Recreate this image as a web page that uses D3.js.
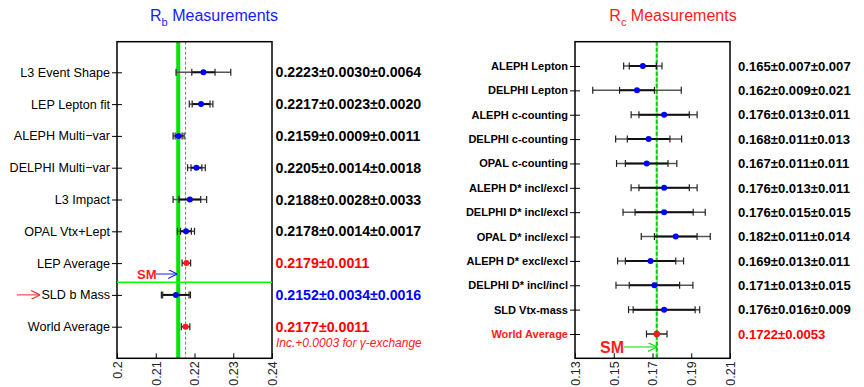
<!DOCTYPE html>
<html><head><meta charset="utf-8">
<script src="https://cdn.jsdelivr.net/npm/d3@7/dist/d3.min.js"></script>
<style>body{margin:0;background:#fff}svg{display:block;font-family:"Liberation Sans",Arial,sans-serif}</style>
</head><body>
<svg id="c" width="864" height="387"></svg>
<script>
// ---- R_b data ----
const rbLabels = ["L3 Event Shape","LEP Lepton fit","ALEPH Multi\u2212var","DELPHI Multi\u2212var","L3 Impact","OPAL Vtx+Lept","LEP Average","SLD b Mass","World Average"];
const rbValues = [0.2223,0.2217,0.2159,0.2205,0.2188,0.2178,0.2179,0.2152,0.2177];
const rbStat   = [0.0030,0.0023,0.0009,0.0014,0.0028,0.0014,0.0011,0.0034,0.0011];
const rbSyst   = [0.0064,0.0020,0.0011,0.0018,0.0033,0.0017,0,0.0016,0];
const rbKind   = ["m","m","m","m","m","m","avg","sld","avg"];
const rbTicks  = [0.2,0.21,0.22,0.23,0.24];
const rbSM = 0.2158;
const rbWorld = 0.2177;

// ---- R_c data ----
const rcLabels = ["ALEPH Lepton","DELPHI Lepton","ALEPH c-counting","DELPHI c-counting","OPAL c-counting","ALEPH D* incl/excl","DELPHI D* incl/excl","OPAL D* incl/excl","ALEPH D* excl/excl","DELPHI D* incl/incl","SLD Vtx-mass","World Average"];
const rcValues = [0.165,0.162,0.176,0.168,0.167,0.176,0.176,0.182,0.169,0.171,0.176,0.1722];
const rcStat   = [0.007,0.009,0.013,0.011,0.011,0.013,0.015,0.011,0.013,0.013,0.016,0.0053];
const rcSyst   = [0.007,0.021,0.011,0.013,0.011,0.011,0.015,0.014,0.011,0.015,0.009,0];
const rcKind   = ["m","m","m","m","m","m","m","m","m","m","m","avg"];
const rcTicks  = [0.13,0.15,0.17,0.19,0.21];
const rcSM = 0.1723;
const rcWorld = 0.1722;

const svg = d3.select("#c");
const defs = svg.append("defs");
function marker(id,color){
  defs.append("marker").attr("id",id).attr("viewBox","0 0 10 10").attr("refX",10).attr("refY",5)
    .attr("markerWidth",9).attr("markerHeight",9).attr("markerUnits","userSpaceOnUse").attr("orient","auto")
    .append("path").attr("d","M0,0 L10,5 L0,10").attr("fill","none").attr("stroke",color).attr("stroke-width",1.2);
}
marker("ab","#1a1aff"); marker("ag","#00dd00"); marker("ar","#ff2020");

function fmt(v,s,sy,digits){
  const f = d3.format("."+digits+"f");
  return sy>0 ? f(v)+"\u00b1"+f(s)+"\u00b1"+f(sy) : f(v)+"\u00b1"+f(s);
}

function panel(o){
  const x = d3.scaleLinear().domain(o.domain).range([o.x0,o.x1]);
  const y = d3.scalePoint().domain(o.labels).range([o.y0,o.y1]);
  const g = svg.append("g");
  const top=41.7, bot=358.3;
  // title
  const t = g.append("text").attr("x",o.titleX).attr("y",21).attr("fill",o.titleColor)
    .attr("font-size",16).attr("text-anchor","middle");
  t.append("tspan").text("R");
  t.append("tspan").attr("font-size",11).attr("dy",5).text(o.sub);
  t.append("tspan").attr("dy",-5).text(" Measurements");

  // SM line & world average line
  if(o.thickSM){
    g.append("line").attr("x1",x(o.sm)).attr("x2",x(o.sm)).attr("y1",top).attr("y2",bot)
      .attr("stroke","#00e600").attr("stroke-width",4);
    g.append("line").attr("x1",x(o.world)).attr("x2",x(o.world)).attr("y1",top).attr("y2",bot)
      .attr("stroke","#00cc00").attr("stroke-width",1).attr("stroke-dasharray","3,2");
  } else {
    g.append("line").attr("x1",x(o.world)).attr("x2",x(o.world)).attr("y1",top).attr("y2",bot)
      .attr("stroke","#7dff7d").attr("stroke-width",2);
    g.append("line").attr("x1",x(o.world)).attr("x2",x(o.world)).attr("y1",top).attr("y2",bot)
      .attr("stroke","#00d000").attr("stroke-width",2).attr("stroke-dasharray","4,2");
  }
  // frame
  g.append("rect").attr("x",o.x0).attr("y",top).attr("width",o.x1-o.x0).attr("height",bot-top)
    .attr("fill","none").attr("stroke","#000").attr("stroke-width",1.5);
  // bottom ticks
  const xa = g.append("g").attr("transform",`translate(0,${bot})`)
    .call(d3.axisBottom(x).tickValues(o.ticks).tickSize(-5).tickFormat(d3.format("~g")));
  xa.select(".domain").remove();
  xa.selectAll("line").attr("stroke","#000").attr("stroke-width",1);
  xa.selectAll("text").attr("transform","rotate(-90)").attr("text-anchor","end")
    .attr("x",-3).attr("y",0).attr("dy","0.35em").attr("font-size",12.5).attr("fill","#222")
    .attr("font-family","Liberation Sans, Arial, sans-serif");
  // left ticks + labels
  const ya = g.append("g").attr("transform",`translate(${o.x0},0)`)
    .call(d3.axisLeft(y).tickSize(5).tickPadding(o.labPad));
  ya.select(".domain").remove();
  ya.selectAll("line").attr("x1",-5).attr("x2",5).attr("stroke","#000");
  ya.selectAll("text").attr("font-size",o.labSize).attr("font-weight",o.labWeight)
    .attr("font-family","Liberation Sans, Arial, sans-serif")
    .attr("fill",(d,i)=>o.labColor(i));

  // error bars
  o.labels.forEach((lab,i)=>{
    const v=o.values[i], s=o.stat[i], sy=o.syst[i];
    const tot=Math.sqrt(s*s+sy*sy);
    const yy=y(lab);
    const eg=g.append("g");
    eg.append("line").attr("x1",x(v-tot)).attr("x2",x(v+tot)).attr("y1",yy).attr("y2",yy)
      .attr("stroke",sy>0?"#555":"#222").attr("stroke-width",1.5);
    [v-tot,v+tot].forEach(e=>eg.append("line").attr("x1",x(e)).attr("x2",x(e))
      .attr("y1",yy-3.5).attr("y2",yy+3.5).attr("stroke","#222").attr("stroke-width",1.2));
    if(sy>0){
      eg.append("line").attr("x1",x(v-s)).attr("x2",x(v+s)).attr("y1",yy).attr("y2",yy)
        .attr("stroke","#111").attr("stroke-width",2);
      [v-s,v+s].forEach(e=>eg.append("line").attr("x1",x(e)).attr("x2",x(e))
        .attr("y1",yy-3.5).attr("y2",yy+3.5).attr("stroke","#222").attr("stroke-width",1.2));
    }
    const kind=o.kind[i];
    eg.append("circle").attr("cx",x(v)).attr("cy",yy).attr("r",3)
      .attr("fill",kind==="avg"?"#ff1a1a":"#0000ff")
      .attr("stroke",kind==="avg"?(o.thickSM?"none":"#b03010"):"none").attr("stroke-width",0.8);
    // value text
    g.append("text").attr("x",o.valX).attr("y",yy).attr("dy","0.36em")
      .attr("font-size",o.valSize).attr("font-weight","bold")
      .attr("fill",kind==="avg"?"#ff0000":(kind==="sld"?"#0000ff":"#000"))
      .text(fmt(v,s,sy,o.digits(i)));
  });
  return {x,y,g};
}

const L = panel({domain:[0.2,0.24],x0:117,x1:272,y0:72.3,y1:326.7,labels:rbLabels,values:rbValues,stat:rbStat,syst:rbSyst,kind:rbKind,
  ticks:rbTicks,sm:rbSM,world:rbWorld,thickSM:true,titleX:214,titleColor:"#1a1aff",sub:"b",
  labPad:2,labSize:12.6,labWeight:"normal",labColor:()=>"#000",valX:275.5,valSize:14.2,digits:()=>4});

// horizontal separator
L.g.append("line").attr("x1",117).attr("x2",272).attr("y1",282.3).attr("y2",282.3)
  .attr("stroke","#00ff00").attr("stroke-width",1.5);
// SM label + arrow
L.g.append("text").attr("x",137).attr("y",274).attr("dy","0.36em").attr("font-size",13).attr("font-weight","bold")
  .attr("fill","#ff1a1a").text("SM");
L.g.append("line").attr("x1",156).attr("x2",L.x(rbSM)-1).attr("y1",274).attr("y2",274)
  .attr("stroke","#1a1aff").attr("stroke-width",1).attr("marker-end","url(#ab)");
// red arrow to SLD
L.g.append("line").attr("x1",17).attr("x2",40).attr("y1",L.y("SLD b Mass")).attr("y2",L.y("SLD b Mass"))
  .attr("stroke","#ff2020").attr("stroke-width",1).attr("marker-end","url(#ar)");
L.g.append("text").attr("x",276).attr("y",342.3).attr("dy","0.36em").attr("font-size",12).attr("font-style","italic")
  .attr("fill","#ff2020").text("Inc.+0.0003 for \u03b3-exchange");

const R = panel({domain:[0.13,0.21],x0:575,x1:730,y0:66,y1:334,labels:rcLabels,values:rcValues,stat:rcStat,syst:rcSyst,kind:rcKind,
  ticks:rcTicks,sm:rcSM,world:rcWorld,thickSM:false,titleX:673,titleColor:"#ff1a1a",sub:"c",
  labPad:2,labSize:11,labWeight:"bold",labColor:i=>i===rcLabels.length-1?"#ff1a1a":"#000",valX:738,valSize:13.1,
  digits:i=>i===rcLabels.length-1?4:3});
R.g.append("text").attr("x",600).attr("y",347).attr("dy","0.36em").attr("font-size",16).attr("font-weight","bold")
  .attr("fill","#ff1a1a").text("SM");
R.g.append("line").attr("x1",624).attr("x2",R.x(rcSM)).attr("y1",347).attr("y2",347)
  .attr("stroke","#00dd00").attr("stroke-width",1.2).attr("marker-end","url(#ag)");
</script>
</body></html>
